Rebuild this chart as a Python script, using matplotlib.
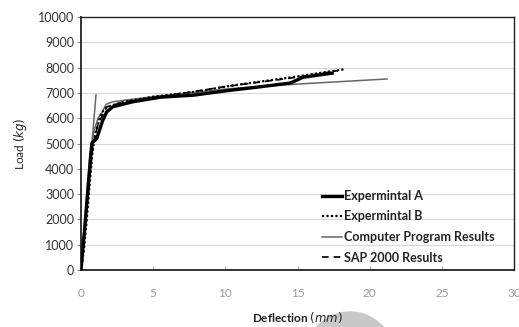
import matplotlib.pyplot as plt
from matplotlib.patches import Ellipse

# Load-deflection curves
exp_a_x = [0, 0.25, 0.5, 0.75, 1.09, 1.5, 1.78, 2.2, 3.6, 5.5, 7.8, 10.0, 12.4, 14.5, 15.4, 17.4]
exp_a_y = [0, 1600, 3300, 5000, 5200, 5900, 6250, 6450, 6650, 6830, 6910, 7080, 7240, 7390, 7620, 7780]

exp_b_x = [0, 0.2, 0.4, 0.6, 0.8, 1.0, 1.4, 1.8, 3.0, 5.0, 8.0, 10.0, 11.7, 15.0, 18.3]
exp_b_y = [0, 800, 2000, 3400, 4700, 5400, 6200, 6450, 6650, 6850, 7050, 7250, 7390, 7650, 7940]

prog_x = [0, 0.3, 0.6, 0.9, 1.18, 1.43, 1.74, 2.2, 5.0, 10.0, 11.7, 15.0, 21.2]
prog_y = [0, 2300, 4500, 5500, 6000, 6200, 6550, 6650, 6850, 7150, 7230, 7350, 7550]
prog_elastic_x = [0, 1.04]
prog_elastic_y = [0, 6920]

sap_x = [0, 0.3, 0.6, 0.85, 1.2, 1.8, 3.0, 5.0, 10.0, 15.0, 17.8]
sap_y = [0, 1800, 3700, 5000, 5800, 6450, 6650, 6800, 7250, 7620, 7880]

plt.rcParams['font.family'] = ['Lato', 'DejaVu Sans']

W, H = 519, 327
fig = plt.figure(figsize=(W / 100, H / 100), dpi=100)
ax = fig.add_axes([81 / W, 1 - 270 / H, 433 / W, 253 / H])

ax.plot(exp_a_x, exp_a_y, color='black', lw=2.4, label='Expermintal A', zorder=4)
ax.plot(exp_b_x, exp_b_y, color='black', lw=1.6, ls=(0, (1, 1)), label='Expermintal B', zorder=5)
ax.plot(prog_x, prog_y, color='#666666', lw=1.1, label='Computer Program Results', zorder=3)
ax.plot(prog_elastic_x, prog_elastic_y, color='#666666', lw=1.1, zorder=3)
ax.plot(sap_x, sap_y, color='black', lw=1.2, ls=(0, (4, 3)), label='SAP 2000 Results', zorder=3)

ax.set_xlim(0, 30)
ax.set_ylim(0, 10000)
ax.set_xticks(range(0, 31, 5))
ax.set_yticks(range(0, 10001, 1000))
ax.grid(axis='y', color='#d8d8d8', lw=0.8)
ax.set_axisbelow(True)

for s in ax.spines.values():
    s.set_color('#222222')
    s.set_linewidth(1.0)
ax.spines['left'].set_linewidth(1.3)
ax.spines['bottom'].set_linewidth(1.3)

ax.tick_params(axis='y', direction='out', length=3, color='#888888',
               labelsize=9, labelcolor='#333333', pad=2)
ax.tick_params(axis='x', direction='in', length=3, color='#aaaaaa',
               labelsize=8.5, labelcolor='#9a9a9a', pad=13)

ax.set_xlabel('Deflection $\\it{(mm)}$', fontsize=8.5, fontweight='bold', color='#222222', labelpad=8)
ax.set_ylabel('Load $\\it{(kg)}$', fontsize=8.5, color='#222222', labelpad=6)

leg = ax.legend(loc='upper left', bbox_to_anchor=(322 / W, 1 - 190 / H),
                bbox_transform=fig.transFigure, frameon=False, borderpad=0, borderaxespad=0,
                fontsize=9, handlelength=1.6, handletextpad=0.15, labelspacing=0.68)
for t in leg.get_texts():
    t.set_fontweight('bold')
    t.set_color('#222222')

# faint round mark at the lower edge
r = 44
fig.patches.append(Ellipse((350 / W, 1 - 356 / H), 2 * r / W, 2 * r / H,
                           transform=fig.transFigure, color='#c8c8c8', zorder=-1))

fig.savefig('out.png', dpi=100)
